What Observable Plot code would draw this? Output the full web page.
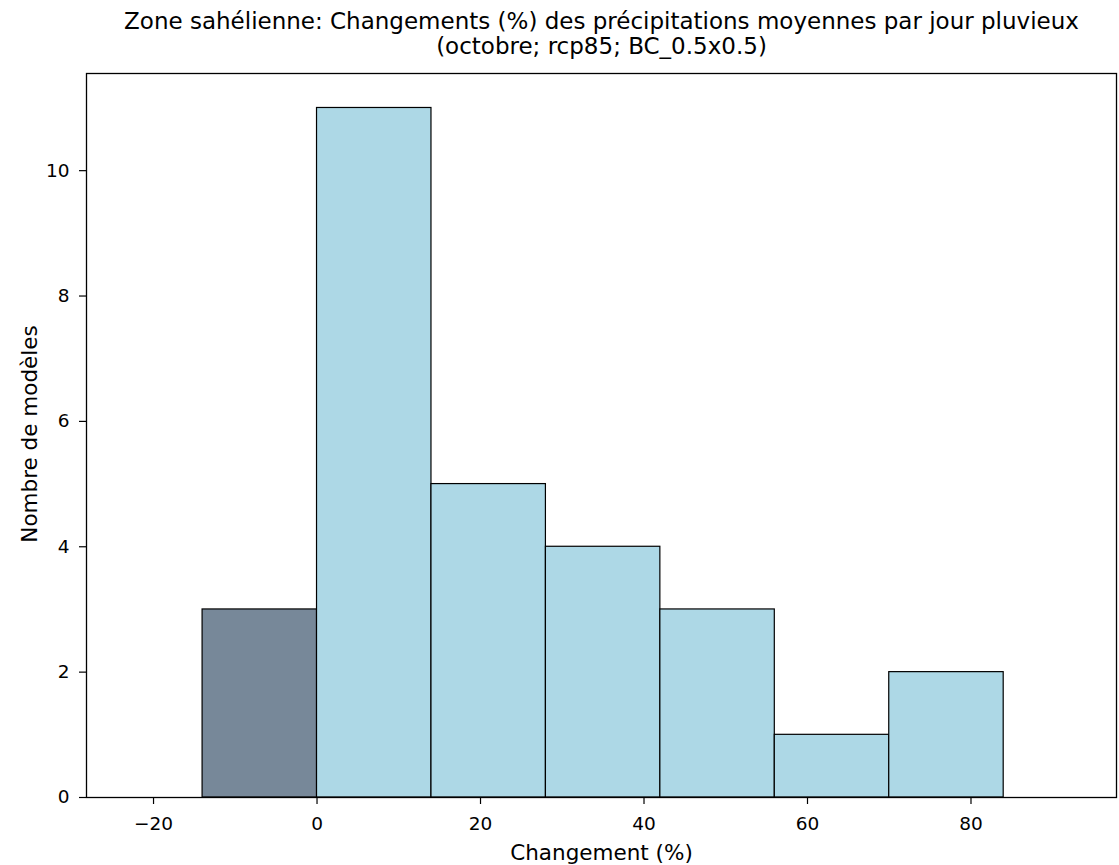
<!DOCTYPE html>
<html>
<head>
<meta charset="utf-8">
<script src="https://cdn.jsdelivr.net/npm/d3@7"></script>
<script src="https://cdn.jsdelivr.net/npm/@observablehq/plot@0.6"></script>
<style>
  html, body { margin: 0; padding: 0; background: #fff; }
  svg { display: block; }
</style>
</head>
<body>
<div id="chart"></div>
<script>
// Data
const binStart = [-14, 0, 14, 28, 42, 56, 70];
const binEnd   = [0, 14, 28, 42, 56, 70, 84];
const counts   = [3, 11, 5, 4, 3, 1, 2];
const xTicks = [-20, 0, 20, 40, 60, 80];
const yTicks = [0, 2, 4, 6, 8, 10];
const titleText = "Zone sahélienne: Changements (%) des précipitations moyennes par jour pluvieux\n(octobre; rcp85; BC_0.5x0.5)";
const xLabel = "Changement (%)";
const yLabel = "Nombre de modèles";

const bins = binStart.map((s, i) => ({x1: s, x2: binEnd[i], count: counts[i]}));

const chart = Plot.plot({
  width: 1119,
  height: 865,
  marginLeft: 86,
  marginRight: 3,
  marginTop: 73,
  marginBottom: 68,
  style: {fontFamily: "DejaVu Sans", fontSize: "18.5px", color: "#000", background: "#fff"},
  x: {domain: [-28.2, 97.8], ticks: xTicks, label: null},
  y: {domain: [0, 11.55], ticks: yTicks, label: null},
  marks: [
    Plot.rectY(bins, {
      x1: "x1", x2: "x2", y1: 0, y2: "count",
      fill: d => d.x1 < 0 ? "#778899" : "#ADD8E6",
      stroke: "#000", strokeWidth: 1.2, inset: 0
    }),
    Plot.frame({stroke: "#000", strokeWidth: 1.3}),
    Plot.axisX({ticks: xTicks, tickSize: 7, tickPadding: 12, tickFormat: d => d < 0 ? "\u2212" + Math.abs(d) : String(d), label: null, stroke: "#000", strokeWidth: 1.2}),
    Plot.axisY({ticks: yTicks, tickSize: 7, tickPadding: 10, label: null, stroke: "#000", strokeWidth: 1.2}),
    Plot.text([titleText], {frameAnchor: "top", lineAnchor: "bottom", dy: -19.5, fontSize: 23, lineHeight: 1.1, fill: "#000"}),
    Plot.text([xLabel], {frameAnchor: "bottom", lineAnchor: "bottom", dy: 62, fontSize: 21.5, fill: "#000"}),
    Plot.text([yLabel], {frameAnchor: "left", textAnchor: "middle", lineAnchor: "bottom", rotate: -90, dx: -50, dy: -1.5, fontSize: 21.5, fill: "#000"})
  ]
});
document.getElementById("chart").appendChild(chart);
</script>
</body>
</html>
